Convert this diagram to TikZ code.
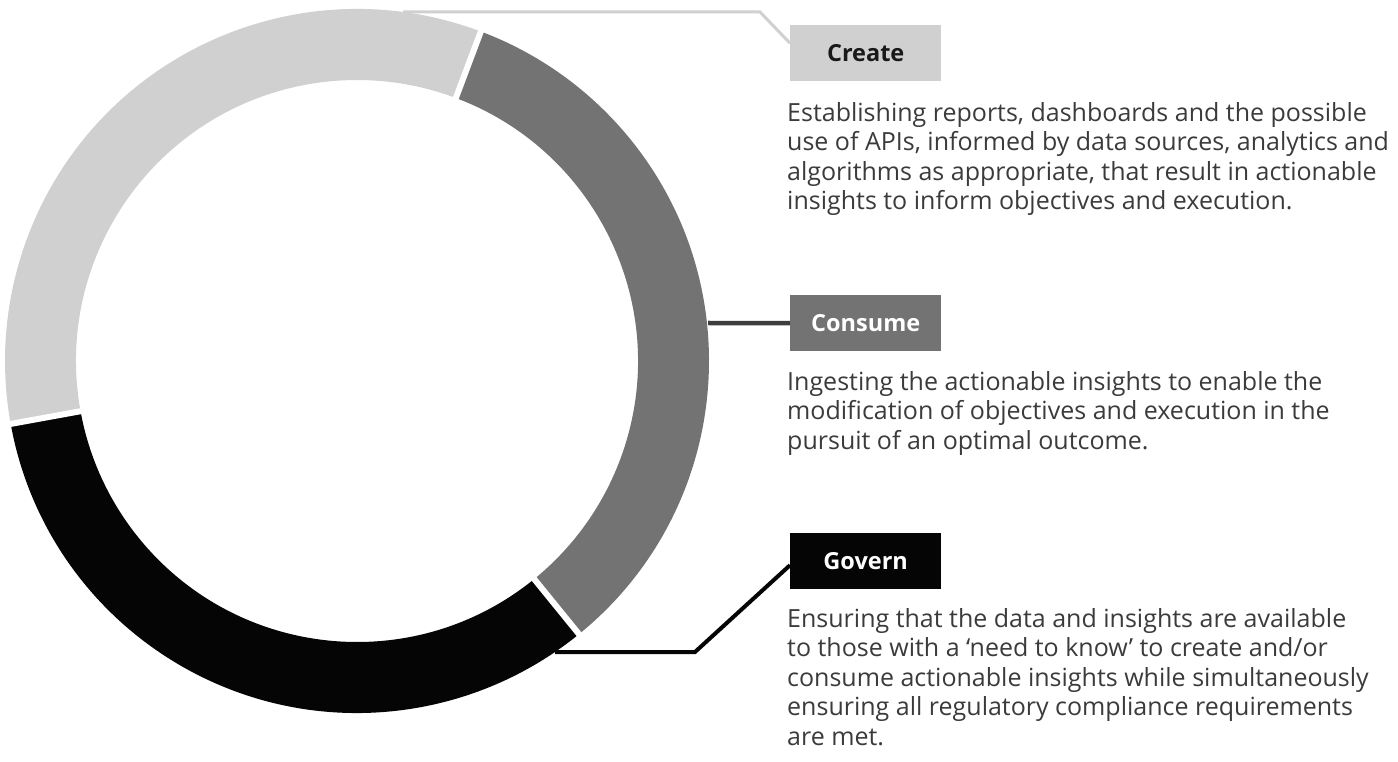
\documentclass[tikz,border=0pt]{standalone}
\usepackage{fontspec}
\setmainfont{Open Sans}
\definecolor{lgray}{HTML}{D0D0D0}
\definecolor{dgray}{HTML}{737373}
\definecolor{blk}{HTML}{050505}
\definecolor{txt}{HTML}{3B3B3B}
\definecolor{cline}{HTML}{3D3D40}
\begin{document}
\begin{tikzpicture}[x=1pt,y=1pt,
  lab/.style={minimum width=151pt, minimum height=56pt, inner sep=0pt, anchor=north west,
    font=\fontsize{23.5}{26}\selectfont\bfseries},
  desc/.style={anchor=north west, align=left, inner sep=0pt, text=txt,
    font=\fontsize{25}{29.5}\selectfont},
  sep/.style={white, line width=6pt},
]
\useasboundingbox (0,0) rectangle (1398,761);
\def\Ro{352pt}\def\Ri{281pt}
\begin{scope}[shift={(357,400)}]
  \fill[lgray] (69.4:\Ro) arc[start angle=69.4,end angle=190.3,radius=\Ro]
     -- (190.3:\Ri) arc[start angle=190.3,end angle=69.4,radius=\Ri] -- cycle;
  \fill[blk] (190.3:\Ro) arc[start angle=190.3,end angle=309.1,radius=\Ro]
     -- (309.1:\Ri) arc[start angle=309.1,end angle=190.3,radius=\Ri] -- cycle;
  \fill[dgray] (309.1:\Ro) arc[start angle=309.1,end angle=429.4,radius=\Ro]
     -- (429.4:\Ri) arc[start angle=429.4,end angle=309.1,radius=\Ri] -- cycle;
  \draw[sep] (69.4:270pt) -- (69.4:362pt);
  \draw[sep] (190.3:270pt) -- (190.3:362pt);
  \draw[sep] (309.1:270pt) -- (309.1:362pt);
\end{scope}

% boxes
\node[lab, fill=lgray, text=black!90] (cbox) at (790,736) {Create};
\node[lab, fill=dgray, text=white] (nbox) at (790,466) {Consume};
\node[lab, fill=blk, text=white] (gbox) at (790,228) {Govern};

% ring anchor points and bends
\coordinate (cring) at (403,749);
\coordinate (cbend) at (760,749);
\coordinate (nring) at (708,438);
\coordinate (gring) at (555,109);
\coordinate (gbend) at (695,109);

\draw[lgray, line width=3pt] (cring) -- (cbend) -- ([yshift=10pt]cbox.west);
\draw[cline, line width=4.5pt] (nring) -- (nbox.west);
\draw[blk, line width=4pt] (gring) -- (gbend) -- ([yshift=-4pt]gbox.west);

% descriptions
\node[desc] (cdesc) at (787,659) {Establishing reports, dashboards and the possible\\
use of APIs, informed by data sources, analytics and\\
algorithms as appropriate, that result in actionable\\
insights to inform objectives and execution.};
\node[desc] (ndesc) at (787,390) {Ingesting the actionable insights to enable the\\
modification of objectives and execution in the\\
pursuit of an optimal outcome.};
\node[desc] (gdesc) at (787,153) {Ensuring that the data and insights are available\\
to those with a ‘need to know’ to create and/or\\
consume actionable insights while simultaneously\\
ensuring all regulatory compliance requirements\\
are met.};
\end{tikzpicture}
\end{document}
